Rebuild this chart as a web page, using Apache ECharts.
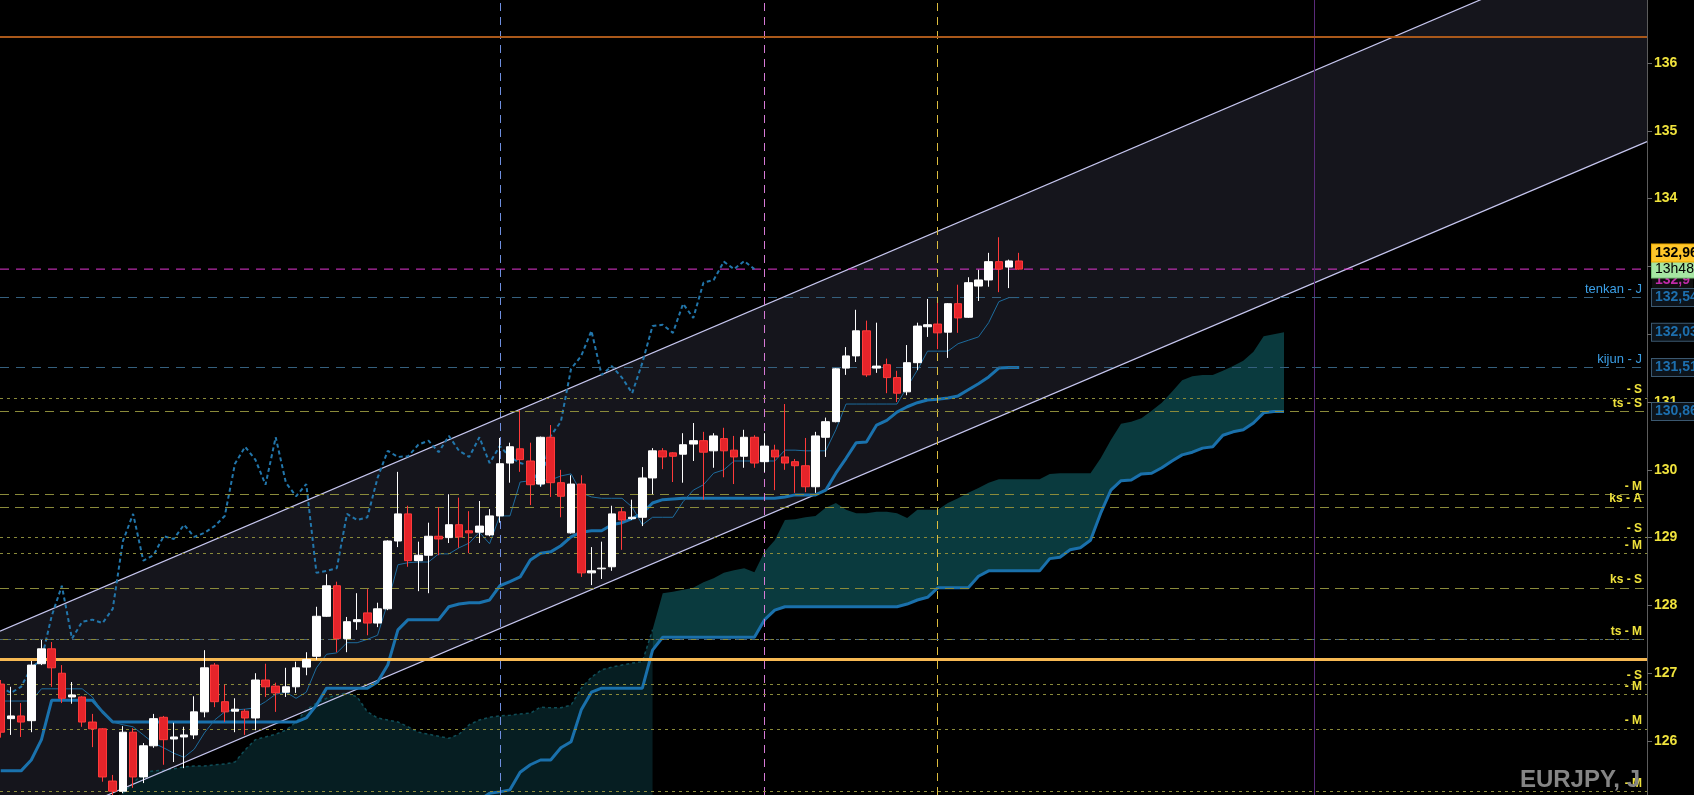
<!DOCTYPE html>
<html><head><meta charset="utf-8">
<script src="https://cdn.jsdelivr.net/npm/echarts@6/dist/echarts.min.js"></script>
<style>html,body{margin:0;padding:0;background:#000;overflow:hidden}#c{width:1694px;height:795px}</style>
</head><body><div id="c"></div>
<script>
// ---------------- DATA ----------------
const symbolName = 'EURJPY, J';
// candles: [open, close, low, high], one per daily bar (index 0..100)
const candles = [
[126.84,126.13,126.05,126.90],[126.33,126.37,126.09,126.80],[126.37,126.28,126.06,126.56],[126.30,127.12,126.13,127.18],
[127.14,127.36,127.12,127.49],[127.36,127.08,126.80,127.46],[127.00,126.63,126.56,127.12],[126.65,126.68,126.55,126.87],
[126.65,126.28,126.21,126.66],[126.28,126.18,125.91,126.40],[126.18,125.47,125.40,126.19],[125.41,125.26,125.18,125.50],
[125.26,126.13,125.23,126.22],[126.13,125.47,125.31,126.19],[125.47,125.93,125.38,125.97],[125.93,126.33,125.90,126.40],
[126.35,126.02,125.65,126.37],[126.03,126.06,125.69,126.27],[126.06,126.09,125.60,126.21],[126.09,126.43,126.03,126.66],
[126.43,127.08,126.35,127.34],[127.12,126.58,126.50,127.15],[126.58,126.43,126.28,126.83],[126.44,126.47,126.13,126.63],
[126.44,126.34,126.09,126.47],[126.34,126.90,126.16,127.00],[126.90,126.80,126.65,127.14],[126.81,126.71,126.43,126.86],
[126.72,126.80,126.65,127.08],[126.80,127.08,126.71,127.17],[127.09,127.20,126.97,127.31],[127.25,127.84,127.20,127.98],
[127.84,128.29,127.83,128.46],[128.29,127.51,127.31,128.35],[127.51,127.76,127.31,127.83],[127.76,127.79,127.64,128.18],
[127.89,127.74,127.56,128.24],[127.74,127.95,127.68,128.04],[127.95,128.95,127.93,128.96],[128.95,129.35,128.86,129.97],
[129.35,128.66,128.57,129.47],[128.66,128.74,128.21,128.94],[128.74,129.02,128.18,129.22],[129.02,128.98,128.74,129.45],
[129.00,129.19,128.92,129.64],[129.19,129.01,128.85,129.59],[129.10,129.07,128.77,129.39],[129.08,129.17,128.92,129.54],
[129.04,129.32,129.02,129.42],[129.32,130.09,129.22,130.47],[130.10,130.34,129.81,130.40],[130.31,130.15,129.97,130.88],
[130.13,129.78,129.48,130.40],[129.79,130.48,129.75,130.49],[130.48,129.81,129.60,130.66],[129.81,129.61,129.30,130.00],
[129.07,129.79,129.06,129.92],[129.79,128.48,128.42,129.92],[128.48,128.51,128.30,128.86],[128.54,128.55,128.39,128.94],
[128.57,129.35,128.51,129.47],[129.38,129.26,128.82,129.44],[129.28,129.30,129.26,129.56],[129.30,129.88,129.17,130.04],
[129.88,130.28,129.64,130.32],[130.28,130.19,130.01,130.32],[130.25,130.20,129.82,130.26],[130.23,130.37,129.81,130.54],
[130.38,130.43,130.13,130.69],[130.43,130.26,129.56,130.56],[130.28,130.50,130.03,130.54],[130.46,130.28,129.89,130.62],
[130.29,130.19,129.79,130.50],[130.20,130.48,130.03,130.59],[130.48,130.10,130.03,130.51],[130.12,130.35,129.97,130.54],
[130.29,130.19,129.70,130.37],[130.19,130.10,130.00,130.97],[130.12,130.06,129.66,130.16],[130.06,129.75,129.67,130.47],
[129.75,130.50,129.66,130.56],[130.48,130.71,130.19,130.77],[130.71,131.49,130.70,131.50],[131.50,131.68,131.40,131.81],
[131.68,132.05,131.59,132.36],[132.05,131.40,131.37,132.20],[131.50,131.53,131.43,132.17],[131.55,131.36,131.13,131.64],
[131.36,131.13,131.00,131.46],[131.15,131.58,131.10,131.84],[131.58,132.12,131.47,132.17],[132.11,132.14,131.96,132.52],
[132.15,132.02,131.78,132.46],[132.03,132.45,131.65,132.46],[132.45,132.24,132.02,132.73],[132.25,132.76,132.24,132.84],
[132.71,132.80,132.49,132.95],[132.80,133.07,132.70,133.20],[133.07,132.96,132.62,133.43],[132.99,133.08,132.68,133.10],
[133.08,132.96,132.95,133.20]
];
const tenkan = [
126.59,126.59,126.59,126.59,126.77,126.77,126.77,126.77,126.77,126.65,126.43,126.28,126.24,126.21,126.09,125.97,
125.90,125.82,125.76,125.88,126.12,126.31,126.43,126.46,126.47,126.49,126.58,126.69,126.72,126.63,126.72,127.08,
127.28,127.30,127.45,127.45,127.50,127.56,128.04,128.60,128.63,128.64,128.64,128.76,128.76,128.85,128.92,129.08,
128.91,129.32,129.32,129.82,129.84,129.85,129.85,129.91,129.94,129.66,129.60,129.58,129.58,129.58,129.45,129.19,
129.30,129.30,129.30,129.53,129.70,129.78,129.95,130.00,130.13,130.13,130.13,130.13,130.13,130.29,130.29,130.28,
130.28,130.28,130.59,130.97,130.97,130.97,130.97,130.97,130.97,131.22,131.47,131.75,131.75,131.75,131.86,131.91,
131.96,132.17,132.48,132.54,132.54
];
const kijun = [
125.56,125.56,125.56,125.72,126.02,126.60,126.60,126.60,126.60,126.60,126.43,126.28,126.28,126.28,126.28,126.28,
126.28,126.28,126.28,126.28,126.28,126.28,126.28,126.28,126.28,126.28,126.28,126.28,126.28,126.28,126.34,126.53,
126.78,126.78,126.78,126.78,126.78,126.87,127.12,127.64,127.79,127.79,127.79,127.79,127.98,128.02,128.04,128.04,
128.08,128.29,128.35,128.42,128.67,128.77,128.79,128.88,129.01,129.08,129.10,129.10,129.19,129.22,129.28,129.36,
129.51,129.56,129.57,129.58,129.58,129.58,129.58,129.58,129.58,129.58,129.58,129.58,129.58,129.60,129.63,129.63,
129.63,129.70,129.95,130.17,130.40,130.41,130.66,130.73,130.85,130.93,130.99,131.03,131.04,131.06,131.09,131.18,
131.27,131.37,131.50,131.51,131.51
];
const chikouShift = 26;
// senkou span A, bars 11..126
const senkouAStart = 11;
const senkouA = [
125.13,125.23,125.38,125.53,125.56,125.57,125.59,125.62,125.63,125.63,125.65,125.66,125.69,125.87,126.02,126.06,
126.10,126.16,126.28,126.46,126.56,126.63,126.68,126.71,126.65,126.43,126.34,126.31,126.28,126.21,126.13,126.10,
126.07,126.04,126.10,126.24,126.31,126.35,126.37,126.38,126.40,126.41,126.50,126.49,126.49,126.53,126.78,126.94,
127.05,127.09,127.12,127.15,127.17,127.64,128.18,128.20,128.23,128.26,128.34,128.40,128.48,128.52,128.55,128.49,
128.79,128.96,129.26,129.27,129.30,129.32,129.44,129.51,129.41,129.36,129.36,129.38,129.38,129.36,129.29,129.41,
129.41,129.41,129.51,129.58,129.66,129.73,129.81,129.86,129.86,129.86,129.86,129.86,129.94,129.95,129.95,129.95,
129.95,130.17,130.44,130.68,130.71,130.76,130.87,130.99,131.15,131.32,131.38,131.40,131.40,131.46,131.53,131.61,
131.74,131.97,132.00,132.03
];
// senkou span B, bars 47..126
const senkouBStart = 47;
const senkouB = [
125.13,125.23,125.25,125.28,125.54,125.65,125.72,125.72,125.90,125.99,126.46,126.72,126.78,126.78,126.78,126.78,
126.78,127.34,127.53,127.53,127.53,127.53,127.53,127.53,127.53,127.53,127.53,127.53,127.79,127.93,127.98,127.98,
127.98,127.98,127.98,127.98,127.98,127.98,127.98,127.98,127.98,127.98,128.02,128.08,128.12,128.26,128.26,128.26,
128.26,128.43,128.51,128.51,128.51,128.51,128.51,128.51,128.69,128.71,128.82,128.85,128.96,129.36,129.70,129.84,
129.85,129.94,129.95,130.03,130.13,130.22,130.26,130.32,130.34,130.51,130.56,130.59,130.69,130.84,130.86,130.86
];
const brightCloudStart = 64;   // bar where the bright (current) cloud begins
// regression channel, price at the left and right ends of the plot
const channelBars = [-0.07, 161.64];
const channelUpper = [127.62, 137.98];
const channelLower = [124.53, 134.84];
// horizontal levels
const supportLevel = 127.21;
const resistanceLevel = 136.38;
const lastPrice = 132.96;
const lastPriceText = '132,96';
const countdownText = '13h48m';
const tenkanJ = 132.54, kijunJ = 131.51, spanANow = 132.03, spanBNow = 130.86;
const tagTexts = ['132,54', '132,03', '131,51', '130,86'];
const shortLevelPrices = [131.06, 129.01, 128.77, 126.84, 126.69, 126.18, 125.26];
const shortLevelLabels = ['- S', '- S', '- M', '- S', '- M', '- M', '- M'];
const longLevelPrices = [130.86, 129.64, 129.45, 128.26, 127.50];
const longLevelLabels = ['ts - S', '- M', 'ks - A', 'ks - S', 'ts - M'];
// vertical session markers (bar index)
const vBlue = 49, vPink = 75, vYellow = 92, vPurple = 129;
const yTickLabels = [126, 127, 128, 129, 130, 131, 132, 133, 134, 135, 136];
const yRange = [125.204, 136.929];

// ---------------- CHART ----------------
const chart = echarts.init(document.getElementById('c'), null, {width: 1694, height: 795});
const FONT = '"Liberation Sans", Arial, sans-serif';
const YEL = '#efe23c';
const OLIVE = '#8a8a3a';
const CLEAR = 'rgba(0,0,0,0)';

const candleData = candles.map((c, i) => [i, c[0], c[1], c[2], c[3]]);
const tenkanData = tenkan.map((v, i) => [i, v]);
const kijunData = kijun.map((v, i) => [i, v]);
const chikouData = candles.slice(chikouShift).map((c, i) => [i, c[1]]);
const spanA = senkouA.map((v, i) => [i + senkouAStart, v]);
const spanB = senkouB.map((v, i) => [i + senkouBStart, v]);
const darkA = spanA.filter(p => p[0] <= brightCloudStart);
const brightA = spanA.filter(p => p[0] >= brightCloudStart);
const brightB = spanB.filter(p => p[0] >= brightCloudStart);

function polySeries(name, z, color, pointsFn) {
  return {
    type: 'custom', name, z, silent: true, data: [[0, 130]],
    renderItem: (params, api) => {
      const pts = pointsFn().map(p => api.coord(p));
      return {type: 'polygon', shape: {points: pts}, style: {fill: color}};
    }
  };
}

const lvlLabel = (txt) => ({show: true, position: 'insideEndTop', formatter: txt, color: YEL,
  fontFamily: FONT, fontSize: 12, fontWeight: 'bold', distance: [5, 2]});
const tag = (txt, extra) => Object.assign({show: true, position: 'end', formatter: txt, distance: 5,
  fontFamily: FONT, fontSize: 14, fontWeight: 'bold', padding: [2, 3, 1, 3], lineHeight: 14,
  backgroundColor: '#0d141b', borderColor: '#3b5870', borderWidth: 1, color: '#1d6fae'}, extra || {});
const noLine = {color: CLEAR, width: 0, type: 'solid'};

const markData = [];
shortLevelPrices.forEach((p, i) => markData.push({yAxis: p, lineStyle: {color: OLIVE, type: [3, 4], width: 1}, label: lvlLabel(shortLevelLabels[i])}));
longLevelPrices.forEach((p, i) => markData.push({yAxis: p, lineStyle: {color: OLIVE, type: [9, 6], width: 1}, label: lvlLabel(longLevelLabels[i])}));
markData.push({yAxis: longLevelPrices[4], lineStyle: {color: '#4a6478', type: [3, 5], width: 1}, label: {show: false}});
markData.push({yAxis: resistanceLevel, lineStyle: {color: '#a9581a', type: 'solid', width: 2}, label: {show: false}});
markData.push({yAxis: supportLevel, lineStyle: {color: '#f7b953', type: 'solid', width: 3}, label: {show: false}});
markData.push({yAxis: tenkanJ, lineStyle: {color: '#35607e', type: [9, 7], width: 1},
  label: {show: true, position: 'insideEndTop', formatter: 'tenkan - J', color: '#3b9fe6', fontFamily: FONT, fontSize: 13, distance: [5, 2]}});
markData.push({yAxis: kijunJ, lineStyle: {color: '#35607e', type: [9, 7], width: 1},
  label: {show: true, position: 'insideEndTop', formatter: 'kijun - J', color: '#3b9fe6', fontFamily: FONT, fontSize: 13, distance: [5, 2]}});
// right-side value tags
const tagData = [];
tagData.push({yAxis: lastPrice, lineStyle: noLine, label: tag('132,9', {color: '#c02aa8', backgroundColor: '#101010', borderWidth: 0, offset: [0, 11]})});
tagData.push({yAxis: tenkanJ, lineStyle: noLine, label: tag(tagTexts[0])});
tagData.push({yAxis: spanANow, lineStyle: noLine, label: tag(tagTexts[1])});
tagData.push({yAxis: kijunJ, lineStyle: noLine, label: tag(tagTexts[2])});
tagData.push({yAxis: spanBNow, lineStyle: noLine, label: tag(tagTexts[3])});
tagData.push({yAxis: lastPrice, lineStyle: noLine,
  label: tag(countdownText, {color: '#000', fontWeight: 'normal', backgroundColor: '#a6e6a2', borderColor: '#7cc07a'})});
tagData.push({yAxis: lastPrice, lineStyle: noLine,
  label: tag(lastPriceText, {color: '#000', backgroundColor: '#ffc62a', borderColor: '#e8a800', offset: [0, -16]})});
// vertical markers
const vData = [
  {xAxis: vBlue, lineStyle: {color: '#6f8fe0', type: [8, 6], width: 1}},
  {xAxis: vPink, lineStyle: {color: '#d67ad6', type: [8, 6], width: 1}},
  {xAxis: vYellow, lineStyle: {color: '#dcbc3e', type: [8, 6], width: 1}},
  {xAxis: vPurple, lineStyle: {color: '#5a2a7a', type: 'solid', width: 1}}
];

const option = {
  animation: false,
  backgroundColor: '#000',
  grid: {left: 0, right: 47, top: 0, bottom: 0},
  xAxis: {type: 'value', min: -0.07, max: 161.64, show: false, axisLine: {onZero: false}},
  yAxis: {
    type: 'value', position: 'right', min: yRange[0], max: yRange[1], splitNumber: 11, scale: true,
    axisLine: {show: true, onZero: false, lineStyle: {color: '#5c5c5c'}},
    axisTick: {show: true, length: 5, lineStyle: {color: '#6a6a6a'}},
    splitLine: {show: false},
    axisLabel: {color: YEL, fontFamily: FONT, fontSize: 14, fontWeight: 'bold', margin: 7,
      showMinLabel: false, showMaxLabel: false,
      formatter: v => (yTickLabels.indexOf(Math.round(v * 1000) / 1000) >= 0 ? String(Math.round(v)) : '')}
  },
  graphic: [{type: 'text', right: 54, bottom: 3, z: 50,
    style: {text: symbolName, fill: '#858585', font: 'bold 24px ' + FONT}}],
  series: [
    polySeries('channelFill', 1, '#15151c', () => [[channelBars[0], channelUpper[0]], [channelBars[1], channelUpper[1]], [channelBars[1], channelLower[1]], [channelBars[0], channelLower[0]]]),
    polySeries('darkCloud', 2, '#061e22', () => darkA.concat([[darkA[darkA.length - 1][0], yRange[0]], [darkA[0][0], yRange[0]]])),
    polySeries('brightCloud', 2, '#0a3a3e', () => brightA.concat(brightB.slice().reverse())),
    {type: 'line', name: 'spanA', z: 3, data: darkA, showSymbol: false, silent: true,
      lineStyle: {color: '#0f4d57', width: 1.5, type: [3, 3]}},
    {type: 'line', name: 'spanB', z: 3, data: spanB, showSymbol: false, silent: true,
      lineStyle: {color: '#1a70ab', width: 3}},
    {type: 'line', name: 'upper', z: 3, data: [[channelBars[0], channelUpper[0]], [channelBars[1], channelUpper[1]]], showSymbol: false, silent: true,
      lineStyle: {color: '#c6c6ef', width: 1.2},
      markLine: {silent: true, symbol: ['none', 'none'], animation: false, label: {show: false}, data: vData}},
    {type: 'line', name: 'lower', z: 3, data: [[channelBars[0], channelLower[0]], [channelBars[1], channelLower[1]]], showSymbol: false, silent: true,
      lineStyle: {color: '#c6c6ef', width: 1.2},
      markLine: {silent: true, symbol: ['none', 'none'], animation: false, data: markData}},
    {type: 'line', name: 'lastPrice', z: 3, data: [[channelBars[0], lastPrice], [channelBars[1], lastPrice]], showSymbol: false, silent: true,
      lineStyle: {color: '#e236d2', width: 1, type: [9, 7]}},
    {type: 'line', name: 'chikou', z: 4, data: chikouData, showSymbol: false, silent: true,
      lineStyle: {color: '#2276ab', width: 2, type: [4, 3]}},
    {type: 'line', name: 'kijun', z: 4, data: kijunData, showSymbol: false, silent: true,
      lineStyle: {color: '#1a72ad', width: 3}},
    {type: 'line', name: 'tenkan', z: 4, data: tenkanData, showSymbol: false, silent: true,
      lineStyle: {color: '#1d6b9c', width: 1},
      markLine: {silent: true, symbol: ['none', 'none'], animation: false, data: tagData}},
    {type: 'candlestick', name: 'EURJPY', z: 5, data: candleData, barWidth: 8,
      encode: {x: 0, y: [1, 2, 3, 4]},
      itemStyle: {color: '#ffffff', color0: '#e5242a', borderColor: '#ffffff', borderColor0: '#ff3a3a', borderWidth: 1}}
  ]
};
chart.setOption(option);
</script>
</body></html>
